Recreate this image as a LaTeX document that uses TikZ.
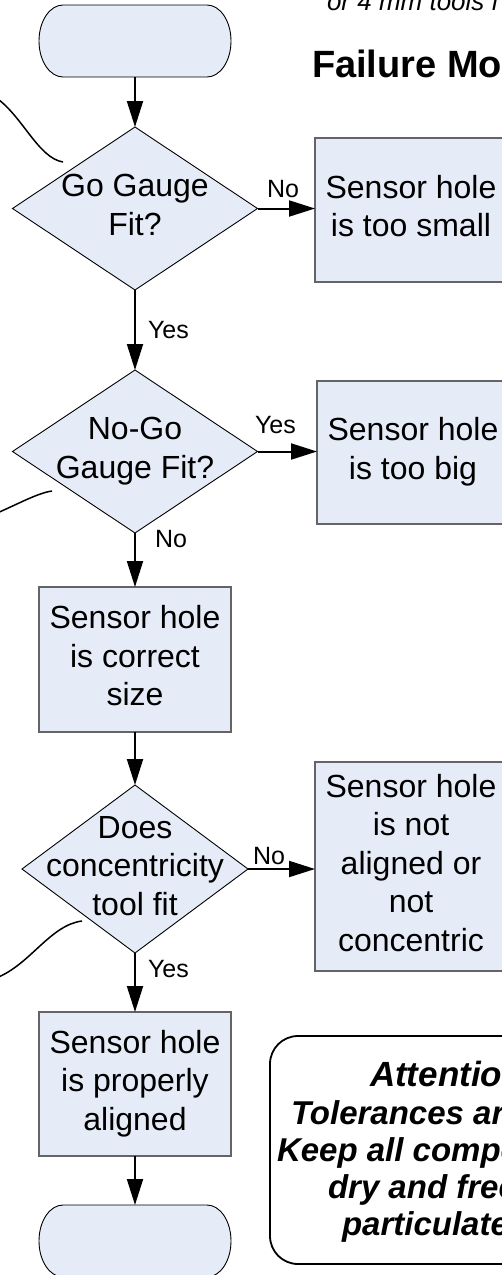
\documentclass[tikz,border=0pt]{standalone}
\usepackage{fontspec}
\setmainfont{Liberation Sans}
\usetikzlibrary{shapes.geometric,arrows.meta,calc}
\definecolor{shapefill}{RGB}{230,236,247}
\definecolor{boxline}{RGB}{100,100,100}
\newcommand\boxtext[1]{\begin{tabular}{@{}c@{}}#1\end{tabular}}
\begin{document}
\begin{tikzpicture}[x=1pt,y=1pt,
  every node/.style={inner sep=0pt, outer sep=0pt},
  main/.style={font=\fontsize{32}{38.5}\selectfont},
  procbox/.style={rectangle, fill=shapefill, draw=boxline, line width=1.3pt,
    minimum width=192pt, main},
  decision/.style={diamond, fill=shapefill, draw=black, line width=0.9pt},
  terminal/.style={rectangle, minimum width=192pt, minimum height=72pt},
  capsule/.style={fill=shapefill, draw=black, line width=0.9pt},
  flow/.style={line width=2pt, -{Triangle[length=26pt,width=16pt]}},
  lbl/.style={font=\fontsize{25}{30}\selectfont, anchor=base west},
  leader/.style={line width=1.5pt},
  note/.style={font=\fontsize{33}{36}\selectfont\bfseries\itshape, anchor=base west},
]
\useasboundingbox (0,0) rectangle (502,-1275);
\clip (0,0) rectangle (502,-1275);

% headings
\node[anchor=base west, font=\fontsize{26}{30}\selectfont\itshape] (hdr) at (327,-10) {or 4 mm tools f};
\node[anchor=base west, font=\fontsize{38}{44}\selectfont\bfseries] (title) at (312,-77) {Failure Modes};

% flow chart shapes
\node[terminal] (start) at (135,-41) {};
\node[decision, minimum width=245pt, minimum height=163pt] (d1) at (135,-208.5) {};
\node[main] (d1text) at (d1) {\boxtext{Go Gauge\\Fit?}};
\node[procbox, minimum height=144pt] (small) at (411,-210) {\boxtext{Sensor hole\\is too small}};

\node[decision, minimum width=245pt, minimum height=163pt] (d2) at (135,-451.5) {};
\node[main] (d2text) at (d2) {\boxtext{No-Go\\Gauge Fit?}};
\node[procbox, minimum height=143pt] (big) at (413,-452.5) {\boxtext{Sensor hole\\is too big}};

\node[procbox, minimum height=145pt] (correct) at (135,-659.5) {\boxtext{Sensor hole\\is correct\\size}};

\node[decision, minimum width=226pt, minimum height=168pt] (d3) at (135,-869) {};
\node[main] (d3text) at (d3) {\boxtext{Does\\concentricity\\tool fit}};
\node[procbox, minimum height=209pt] (notaligned) at (411,-866.5) {\boxtext{Sensor hole\\is not\\aligned or\\not\\concentric}};

\node[procbox, minimum height=144pt] (aligned) at (135,-1084) {\boxtext{Sensor hole\\is properly\\aligned}};
\node[terminal] (stop) at (135,-1241) {};

% start / end capsules
\foreach \t in {start,stop}
  \filldraw[capsule] ($(\t.north west)+(24,0)$) -- ($(\t.north east)+(-24,0)$)
    arc[start angle=90, end angle=-90, x radius=24pt, y radius=36pt]
    -- ($(\t.south west)+(24,0)$)
    arc[start angle=270, end angle=90, x radius=24pt, y radius=36pt] -- cycle;

% connectors
\draw[flow] (start.south) -- (d1.north);
\draw[flow] (d1.east) -- (small.west |- d1.east);
\draw[flow] (d1.south) -- (d2.north);
\draw[flow] (d2.east) -- (big.west |- d2.east);
\draw[flow] (d2.south) -- (correct.north);
\draw[flow] (correct.south) -- (d3.north);
\draw[flow] (d3.east) -- (notaligned.west |- d3.east);
\draw[flow] (d3.south) -- (aligned.north);
\draw[flow] (aligned.south) -- (stop.north);

% branch labels
\node[lbl] (l1) at (267,-197) {No};
\node[lbl] (l2) at (148,-338) {Yes};
\node[lbl] (l3) at (255,-433) {Yes};
\node[lbl] (l4) at (155,-547) {No};
\node[lbl] (l5) at (253,-864) {No};
\node[lbl] (l6) at (148,-977) {Yes};

% callout leaders
\coordinate (c1a) at (-5,-97);
\coordinate (c1b) at (63,-162);
\draw[leader] (c1a) .. controls (22,-115) and (38,-158) .. (c1b);
\coordinate (c2a) at (-5,-514);
\coordinate (c2b) at (52,-491);
\draw[leader] (c2a) .. controls (20,-503) and (38,-493) .. (c2b);
\coordinate (c3a) at (-4,-978);
\coordinate (c3b) at (82,-921);
\draw[leader] (c3a) .. controls (30,-965) and (50,-925) .. (c3b);

% attention note
\node[draw=black, line width=1.8pt, rounded corners=28pt, minimum width=348pt,
  minimum height=228pt] (note) at (444,-1150) {};
\node[note, font=\fontsize{35}{40}\selectfont\bfseries\itshape] (n0) at (370,-1086) {Attention};
\node[note] (n1) at (291,-1124) {Tolerances are};
\node[note] (n2) at (277,-1161) {Keep all components};
\node[note] (n3) at (328,-1198) {dry and free};
\node[note] (n4) at (342,-1235) {particulates};
\end{tikzpicture}
\end{document}
